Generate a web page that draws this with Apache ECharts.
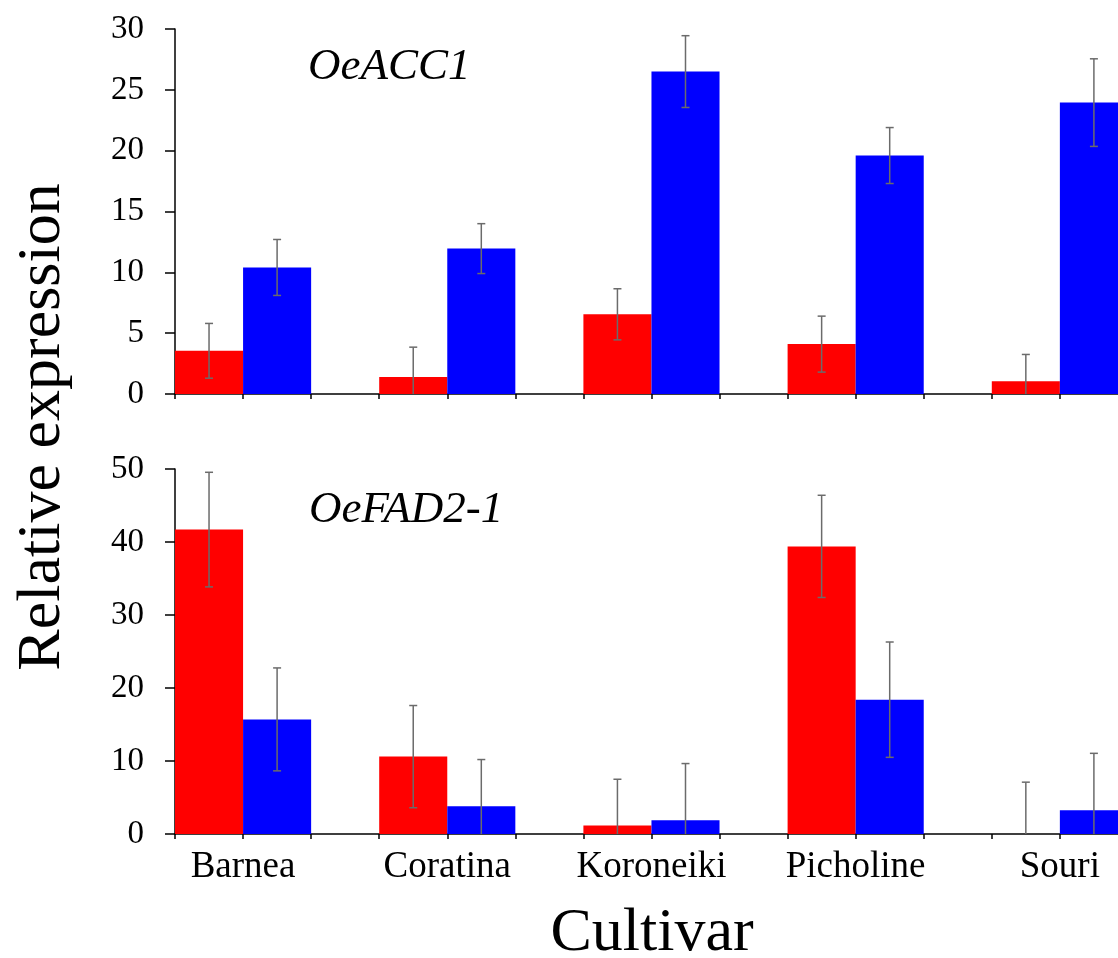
<!DOCTYPE html>
<html>
<head>
<meta charset="utf-8">
<script src="https://cdn.jsdelivr.net/npm/echarts@6/dist/echarts.min.js"></script>
<style>html,body{margin:0;padding:0;background:#fff}#c{width:1118px;height:958px}</style>
</head>
<body>
<div id="c"></div>
<script>
const cultivars = ['Barnea', 'Coratina', 'Koroneiki', 'Picholine', 'Souri'];
const yTicksTop = [0, 5, 10, 15, 20, 25, 30];
const yTicksBottom = [0, 10, 20, 30, 40, 50];

const accRed = [3.55, 1.4, 6.55, 4.1, 1.05];
const accRedErr = [2.25, 2.45, 2.1, 2.3, 2.2];
const accBlue = [10.4, 11.95, 26.5, 19.6, 23.95];
const accBlueErr = [2.3, 2.05, 2.95, 2.3, 3.6];

const fadRed = [41.7, 10.6, 1.15, 39.4, 0];
const fadRedErr = [7.85, 7.0, 6.35, 7.0, 7.1];
const fadBlue = [15.7, 3.8, 1.9, 18.4, 3.25];
const fadBlueErr = [7.05, 6.4, 7.75, 7.9, 7.8];

const FONT = 'Liberation Serif';
// 3 slots per cultivar: red, blue, gap
const slots = [];
cultivars.forEach(c => { slots.push(c + '|r', c + '|b', c + '|g'); });

function slotData(vals, off) {
  const arr = new Array(slots.length).fill(null);
  vals.forEach((v, i) => { arr[i * 3 + off] = v; });
  return arr;
}
function errData(vals, errs, off) {
  return vals.map((v, i) => [i * 3 + off, v, errs[i]]);
}

function errSeries(xi, yi, data) {
  return {
    type: 'custom', xAxisIndex: xi, yAxisIndex: yi, data: data, z: 10, silent: true, clip: false,
    renderItem: function (params, api) {
      const x = api.value(0), v = api.value(1), e = api.value(2);
      const hi = v + e, lo = Math.max(0, v - e);
      const pHi = api.coord([x, hi]);
      const pLo = api.coord([x, lo]);
      const cw = 4;
      const st = { stroke: '#6b6b6b', lineWidth: 1.5 };
      const ch = [
        { type: 'line', shape: { x1: pHi[0], y1: pHi[1], x2: pLo[0], y2: pLo[1] }, style: st },
        { type: 'line', shape: { x1: pHi[0] - cw, y1: pHi[1], x2: pHi[0] + cw, y2: pHi[1] }, style: st }
      ];
      if (v - e >= 0) ch.push({ type: 'line', shape: { x1: pLo[0] - cw, y1: pLo[1], x2: pLo[0] + cw, y2: pLo[1] }, style: st });
      return { type: 'group', children: ch };
    }
  };
}

const axisLine = { show: true, lineStyle: { color: '#000', width: 1.5 } };

function xAxis(gi, showLabels) {
  return {
    type: 'category', gridIndex: gi, data: slots, boundaryGap: true,
    axisLine: axisLine,
    axisTick: { show: true, interval: 0, length: 5, lineStyle: { color: '#000', width: 1.5 } },
    axisLabel: {
      show: showLabels, interval: 0, margin: 15,
      formatter: function (val) {
        const p = val.split('|');
        return p[1] === 'r' ? '{a|' + p[0] + '}' : '';
      },
      rich: { a: { fontFamily: FONT, fontSize: 37, color: '#000', padding: [0, 0, 0, 68] } }
    },
    splitLine: { show: false }
  };
}
function yAxis(gi, ticks) {
  return {
    type: 'value', gridIndex: gi, min: ticks[0], max: ticks[ticks.length - 1], interval: ticks[1] - ticks[0],
    axisLine: axisLine,
    axisTick: { show: true, length: 10, lineStyle: { color: '#000', width: 1.5 } },
    axisLabel: { fontFamily: FONT, fontSize: 33, color: '#000', margin: 31 },
    splitLine: { show: false }
  };
}

const chart = echarts.init(document.getElementById('c'), null, { renderer: 'canvas' });
chart.setOption({
  animation: false,
  backgroundColor: '#fff',
  grid: [
    { left: 175, width: 1021, top: 29, height: 365, outerBoundsMode: 'none', containLabel: false },
    { left: 175, width: 1021, top: 469, height: 365, outerBoundsMode: 'none', containLabel: false }
  ],
  xAxis: [xAxis(0, false), xAxis(1, true)],
  yAxis: [yAxis(0, yTicksTop), yAxis(1, yTicksBottom)],
  series: [
    { type: 'bar', xAxisIndex: 0, yAxisIndex: 0, data: slotData(accRed, 0), barWidth: '100%', barGap: '-100%', itemStyle: { color: '#ff0000' } },
    { type: 'bar', xAxisIndex: 0, yAxisIndex: 0, data: slotData(accBlue, 1), barWidth: '100%', barGap: '-100%', itemStyle: { color: '#0000ff' } },
    { type: 'bar', xAxisIndex: 1, yAxisIndex: 1, data: slotData(fadRed, 0), barWidth: '100%', barGap: '-100%', itemStyle: { color: '#ff0000' } },
    { type: 'bar', xAxisIndex: 1, yAxisIndex: 1, data: slotData(fadBlue, 1), barWidth: '100%', barGap: '-100%', itemStyle: { color: '#0000ff' } },
    errSeries(0, 0, errData(accRed, accRedErr, 0)),
    errSeries(0, 0, errData(accBlue, accBlueErr, 1)),
    errSeries(1, 1, errData(fadRed, fadRedErr, 0)),
    errSeries(1, 1, errData(fadBlue, fadBlueErr, 1))
  ],
  graphic: [
    { type: 'text', x: 308, y: 67, style: { text: 'OeACC1', fontFamily: FONT, fontStyle: 'italic', fontSize: 45, fill: '#000', textVerticalAlign: 'middle' } },
    { type: 'text', x: 309, y: 510, style: { text: 'OeFAD2-1', fontFamily: FONT, fontStyle: 'italic', fontSize: 45, fill: '#000', textVerticalAlign: 'middle' } },
    { type: 'text', x: 43, y: 427, rotation: Math.PI / 2, style: { text: 'Relative expression', fontFamily: FONT, fontSize: 62, fill: '#000', textAlign: 'center', textVerticalAlign: 'middle' } },
    { type: 'text', x: 652, y: 934, style: { text: 'Cultivar', fontFamily: FONT, fontSize: 62, fill: '#000', textAlign: 'center', textVerticalAlign: 'middle' } }
  ]
});
</script>
</body>
</html>
